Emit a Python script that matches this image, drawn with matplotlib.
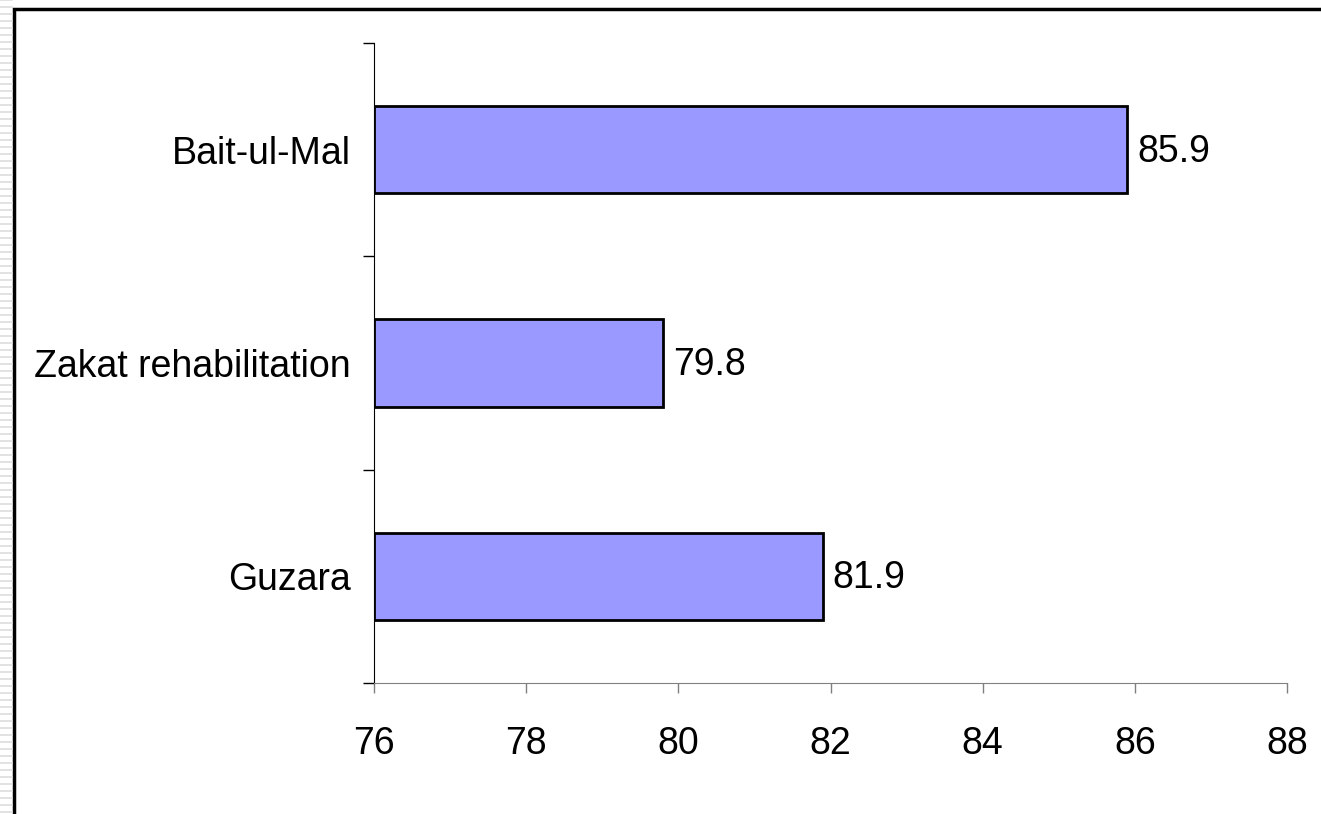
import matplotlib.pyplot as plt
from matplotlib.patches import Rectangle

# scores per programme (bottom to top)
programmes = ['Guzara', 'Zakat rehabilitation', 'Bait-ul-Mal']
scores = [81.9, 79.8, 85.9]
x_ticks = [76, 78, 80, 82, 84, 86, 88]

plt.rcParams['font.family'] = ['Liberation Sans', 'DejaVu Sans']

fig = plt.figure(figsize=(13.21, 8.14), dpi=100)

# light striped strip on the left edge and the black frame
for i in range(0, 814, 7):
    fig.add_artist(plt.Line2D([0, 12 / 1321], [1 - i / 814, 1 - i / 814],
                              transform=fig.transFigure, color='#dddddd', lw=1.2))
fig.add_artist(Rectangle((13.5 / 1321, -0.1), 1.2, 1 - 9.5 / 814 + 0.1,
                         transform=fig.transFigure, fill=False,
                         edgecolor='black', lw=2.5))

ax = fig.add_axes([374 / 1321, 131 / 814, 913 / 1321, 640 / 814])

pos = list(range(len(programmes)))
ax.barh(pos, [s - x_ticks[0] for s in scores], left=x_ticks[0], height=0.41,
        color='#9999ff', edgecolor='black', linewidth=2.0)

for p, s in zip(pos, scores):
    ax.text(s + 0.13, p - 0.01, f'{s:.1f}', va='center', ha='left', fontsize=27)

ax.set_xlim(x_ticks[0], x_ticks[-1])
ax.set_ylim(-0.5, len(programmes) - 0.5)
ax.set_xticks(x_ticks)
ax.set_xticklabels([str(t) for t in x_ticks], fontsize=27)
ax.tick_params(axis='x', length=7, width=1, color='#808080', pad=24)

# category boundaries as major ticks, names on minor ticks
ax.set_yticks([i - 0.5 for i in range(len(programmes) + 1)])
ax.set_yticklabels([])
ax.set_yticks(pos, minor=True)
ax.set_yticklabels(programmes, minor=True, fontsize=27)
ax.tick_params(axis='y', which='major', length=8, width=1, color='black')
ax.tick_params(axis='y', which='minor', length=0, pad=17)

for side in ['top', 'right']:
    ax.spines[side].set_visible(False)
ax.spines['bottom'].set_color('#808080')
ax.spines['left'].set_color('black')

fig.savefig('out.png', dpi=100)
